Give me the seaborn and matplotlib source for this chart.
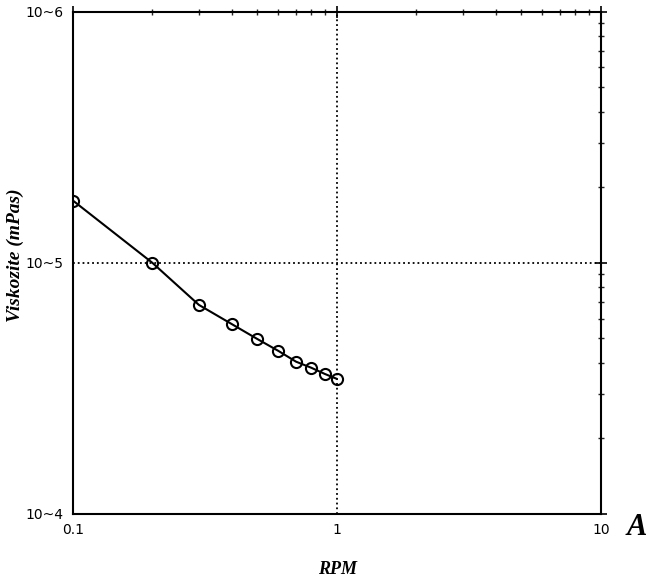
import matplotlib
matplotlib.use('Agg')
import matplotlib.pyplot as plt
import numpy as np
import pandas as pd
import seaborn as sns
from matplotlib.ticker import FixedLocator, LogLocator, NullFormatter

# data
rpm = [0.1, 0.2, 0.3, 0.4, 0.5, 0.6, 0.7, 0.8, 0.9, 1.0]
viskozite = [1.77e5, 1.0e5, 6.8e4, 5.7e4, 4.97e4, 4.46e4, 4.04e4, 3.82e4, 3.61e4, 3.45e4]
x_ticks = [0.1, 1, 10]
x_labels = ['0.1', '1', '10']
y_ticks = [1e4, 1e5, 1e6]
y_labels = ['10~4', '10~5', '10~6']

df = pd.DataFrame({'RPM': rpm, 'Viskozite': viskozite})

sns.set_style('white')
plt.rcParams['font.family'] = ['DejaVu Sans']

fig = plt.figure(figsize=(6.51, 5.86), dpi=100)
ax = fig.add_axes([0.112, 0.123, 0.811, 0.857])

sns.lineplot(data=df, x='RPM', y='Viskozite', ax=ax, color='black', linewidth=1.5,
             marker='o', markersize=8, markerfacecolor='none',
             markeredgecolor='black', markeredgewidth=1.5)

ax.set_xscale('log')
ax.set_yscale('log')
ax.set_xlim(0.1, 10)
ax.set_ylim(1e4, 1e6)

ax.xaxis.set_major_locator(FixedLocator(x_ticks))
ax.set_xticklabels(x_labels)
ax.yaxis.set_major_locator(FixedLocator(y_ticks))
ax.set_yticklabels(y_labels)
ax.xaxis.set_minor_locator(LogLocator(base=10, subs=np.arange(2, 10)))
ax.yaxis.set_minor_locator(LogLocator(base=10, subs=np.arange(2, 10)))
ax.xaxis.set_minor_formatter(NullFormatter())
ax.yaxis.set_minor_formatter(NullFormatter())

ax.tick_params(which='major', direction='inout', length=9, width=1.2, labelsize=10,
               top=True, right=True, colors='black', pad=2)
ax.tick_params(which='minor', direction='inout', length=4, width=1, top=True, right=True)

ax.grid(True, which='major', linestyle=':', color='black', linewidth=1.3)

for s in ax.spines.values():
    s.set_color('black')
    s.set_linewidth(1.5)

ax.set_xlabel('')
ax.set_ylabel('')
fig.text(0.024, 0.565, 'Viskozite (mPas)', rotation=90, ha='center', va='center', color='black',
         fontsize=14, fontweight='bold', fontstyle='italic', family='Liberation Serif')
fig.text(0.518, 0.028, 'RPM', ha='center', va='center', color='black',
         fontsize=13, fontweight='bold', fontstyle='italic', family='Liberation Serif')
fig.text(0.978, 0.1, 'A', ha='center', va='center', color='black',
         fontsize=22, fontweight='bold', fontstyle='italic', family='Liberation Serif')

fig.savefig('out.png', dpi=100)
